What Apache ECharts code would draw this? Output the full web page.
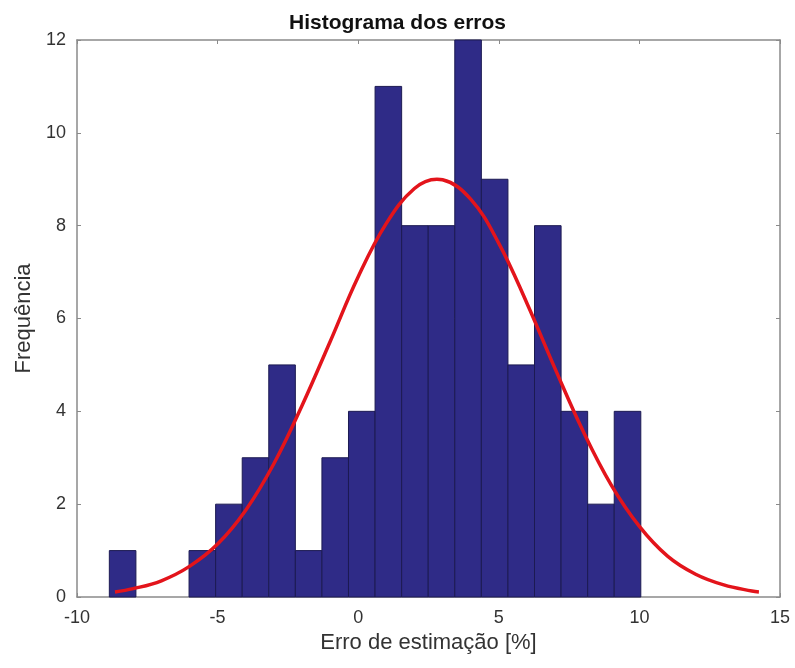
<!DOCTYPE html>
<html>
<head>
<meta charset="utf-8">
<script src="https://cdn.jsdelivr.net/npm/echarts@6/dist/echarts.min.js"></script>
<style>html,body{margin:0;padding:0;background:#fff}#c{width:795px;height:668px}</style>
</head>
<body>
<div id="c"></div>
<script>
// Histogram bin edges (21) and counts (20)
const binEdges = [-8.85, -7.905, -6.96, -6.015, -5.07, -4.125, -3.18, -2.235, -1.29, -0.345, 0.6,
                  1.545, 2.49, 3.435, 4.38, 5.325, 6.27, 7.215, 8.16, 9.105, 10.05];
const binCounts = [1, 0, 0, 1, 2, 3, 5, 1, 3, 4, 11, 8, 8, 12, 9, 5, 8, 4, 2, 4];
// Fitted curve
const curveX = [-8.65, -8, -7, -6, -5, -4, -3, -2, -1, 0, 1, 2, 2.8, 3, 4, 5, 6, 7, 8, 9, 10, 11, 12, 13, 14, 14.25];
const curveY = [0.11, 0.18, 0.35, 0.66, 1.14, 1.87, 2.87, 4.12, 5.5, 6.9, 8.05, 8.8, 9.0, 8.99, 8.57, 7.62, 6.33, 4.92, 3.57, 2.41, 1.52, 0.88, 0.49, 0.26, 0.13, 0.11];
const xTicks = {min: -10, max: 15, interval: 5};
const yTicks = {min: 0, max: 12, interval: 2};

const font = "'Liberation Sans', Arial, sans-serif";
const barData = binCounts.map((c, i) => [binEdges[i], binEdges[i + 1], c]);
const lineData = curveX.map((x, i) => [x, curveY[i]]);

const frame = {show: true, onZero: false, lineStyle: {color: '#8a8a8a', width: 1.5}};
const tickIn = {show: true, inside: true, length: 4, lineStyle: {color: '#8a8a8a', width: 1}};

const chart = echarts.init(document.getElementById('c'), null, {renderer: 'canvas'});
chart.setOption({
  animation: false,
  backgroundColor: '#ffffff',
  title: {
    text: 'Histograma dos erros',
    left: 'center', top: 8,
    textStyle: {fontFamily: font, fontWeight: 'bold', fontSize: 21, color: '#111'}
  },
  grid: {left: 77, right: 15, top: 40, bottom: 71, containLabel: false},
  xAxis: [{
    type: 'value', min: xTicks.min, max: xTicks.max, interval: xTicks.interval,
    position: 'bottom',
    axisLine: frame, axisTick: tickIn, splitLine: {show: false},
    axisLabel: {margin: 12, fontFamily: font, fontSize: 18, color: '#333'},
    name: 'Erro de estimação [%]', nameLocation: 'middle', nameGap: 33,
    nameTextStyle: {fontFamily: font, fontSize: 22, color: '#333'}
  }, {
    type: 'value', min: xTicks.min, max: xTicks.max, interval: xTicks.interval,
    position: 'top',
    axisLine: frame, axisTick: tickIn, splitLine: {show: false},
    axisLabel: {show: false}
  }],
  yAxis: [{
    type: 'value', min: yTicks.min, max: yTicks.max, interval: yTicks.interval,
    position: 'left',
    axisLine: frame, axisTick: tickIn, splitLine: {show: false},
    axisLabel: {margin: 11, fontFamily: font, fontSize: 18, color: '#333'},
    name: 'Frequência', nameLocation: 'middle', nameGap: 40, nameRotate: 90,
    nameTextStyle: {fontFamily: font, fontSize: 22, color: '#333'}
  }, {
    type: 'value', min: yTicks.min, max: yTicks.max, interval: yTicks.interval,
    position: 'right',
    axisLine: frame, axisTick: tickIn, splitLine: {show: false},
    axisLabel: {show: false}
  }],
  series: [{
    type: 'custom',
    xAxisIndex: 0, yAxisIndex: 0,
    data: barData,
    encode: {x: [0, 1], y: 2},
    renderItem: function (params, api) {
      if (api.value(2) <= 0) return null;
      const p0 = api.coord([api.value(0), api.value(2)]);
      const p1 = api.coord([api.value(1), 0]);
      return {
        type: 'rect',
        shape: {x: p0[0], y: p0[1], width: p1[0] - p0[0], height: p1[1] - p0[1]},
        style: {fill: '#2f2b87', stroke: '#1c1a52', lineWidth: 1}
      };
    },
    z: 2
  }, {
    type: 'line',
    xAxisIndex: 0, yAxisIndex: 0,
    data: lineData,
    smooth: 0.4,
    showSymbol: false,
    lineStyle: {color: '#e3141b', width: 3.5},
    z: 5
  }]
});
</script>
</body>
</html>
